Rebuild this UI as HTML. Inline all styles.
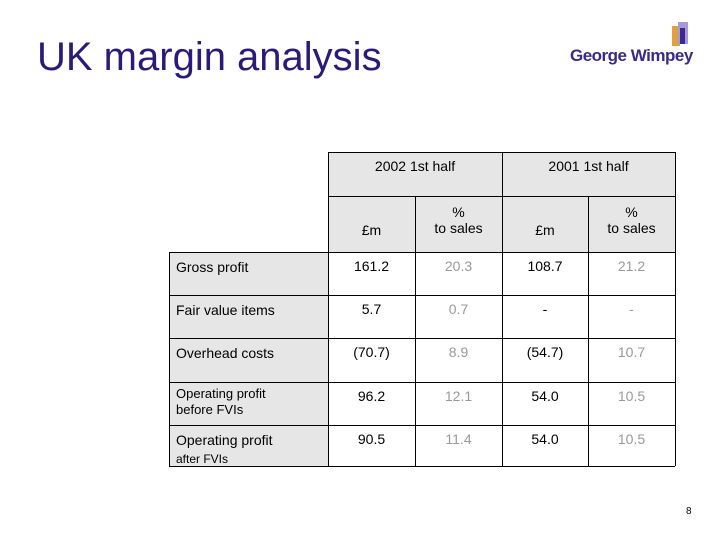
<!DOCTYPE html>
<html><head><meta charset="utf-8"><style>
body{margin:0;width:720px;height:540px;background:#fff;position:relative;overflow:hidden;font-family:"Liberation Sans",sans-serif}
.c{position:absolute;box-sizing:border-box;font-size:14px;color:#000;text-align:center}
.g{background:#e6e6e6}
.l{stroke:#000;stroke-width:1}
</style></head><body>
<div style="position:absolute;left:37px;top:35px;font-size:40px;color:#2a1b7a">UK margin analysis</div>
<div style="position:absolute;left:570px;top:20px;width:125px;height:50px">
<svg width="125" height="30" style="position:absolute;left:0;top:0"><rect x="102" y="6" width="8" height="20" fill="#e0a040"/><rect x="108" y="2" width="10" height="22" fill="#a89ad8"/><rect x="110" y="8" width="5" height="16" fill="#3a2a8a"/></svg>
<div style="position:absolute;left:0;top:26px;font-size:17px;color:#3a2a8a;font-weight:bold;white-space:nowrap;letter-spacing:-0.5px">George Wimpey</div>
</div>
<div class="g" style="position:absolute;left:328px;top:152px;width:347px;height:100px"></div>
<div class="g" style="position:absolute;left:169px;top:252px;width:159px;height:214px"></div>
<svg width="720" height="540" style="position:absolute;left:0;top:0">
<g class="l">
<line x1="328" y1="152.5" x2="675" y2="152.5"/>
<line x1="328" y1="196.5" x2="675" y2="196.5"/>
<line x1="169" y1="252.5" x2="675" y2="252.5"/>
<line x1="169" y1="295.5" x2="675" y2="295.5"/>
<line x1="169" y1="338.5" x2="675" y2="338.5"/>
<line x1="169" y1="382.5" x2="675" y2="382.5"/>
<line x1="169" y1="425.5" x2="675" y2="425.5"/>
<line x1="169" y1="466.5" x2="675" y2="466.5"/>
<line x1="169.5" y1="252" x2="169.5" y2="466"/>
<line x1="328.5" y1="152" x2="328.5" y2="466"/>
<line x1="415.5" y1="196" x2="415.5" y2="466"/>
<line x1="502.5" y1="152" x2="502.5" y2="466"/>
<line x1="588.5" y1="196" x2="588.5" y2="466"/>
<line x1="675.5" y1="152" x2="675.5" y2="466"/>
</g></svg>
<div class="c" style="left:328px;top:158px;width:174px">2002 1st half</div>
<div class="c" style="left:502px;top:158px;width:173px">2001 1st half</div>
<div class="c" style="left:328px;top:222px;width:87px">£m</div>
<div class="c" style="left:415px;top:204px;width:87px">%<br>to sales</div>
<div class="c" style="left:502px;top:222px;width:86px">£m</div>
<div class="c" style="left:588px;top:204px;width:87px">%<br>to sales</div>
<div id="rows"></div>
<div style="position:absolute;left:686px;top:506px;font-size:10px">8</div>
<script>
const rowLabels=["Gross profit","Fair value items","Overhead costs","Operating profit<br>before FVIs","Operating profit<br><span style='font-size:12px'>after FVIs</span>"];
const gbp2002=["161.2","5.7","(70.7)","96.2","90.5"];
const pct2002=["20.3","0.7","8.9","12.1","11.4"];
const gbp2001=["108.7","-","(54.7)","54.0","54.0"];
const pct2001=["21.2","-","10.7","10.5","10.5"];
const rowTops=[252,295,338,382,425];
const root=document.getElementById('rows');
function cell(name,html,left,top,w,color,extra){
 const d=document.createElement('div');
 d.className='c';
 
 
 d.innerHTML=html;
 d.style.left=left+'px';d.style.top=top+'px';d.style.width=w+'px';d.style.color=color;
 if(extra)Object.assign(d.style,extra);
 root.appendChild(d);
}
rowLabels.forEach((lab,i)=>{
 const t=rowTops[i];
 const small=i===3;
 cell('row-label',lab,176,t+(small?4:6),150,'#000',{textAlign:'left',fontSize:small?'13px':'14px',lineHeight:small?'16px':'18px'});
 cell('value-2002-gbp',gbp2002[i],328,t+6,87,'#000');
 cell('value-2002-pct',pct2002[i],415,t+6,87,'#999');
 cell('value-2001-gbp',gbp2001[i],502,t+6,86,'#000');
 cell('value-2001-pct',pct2001[i],588,t+6,87,'#999');
});
</script>
</body></html>
